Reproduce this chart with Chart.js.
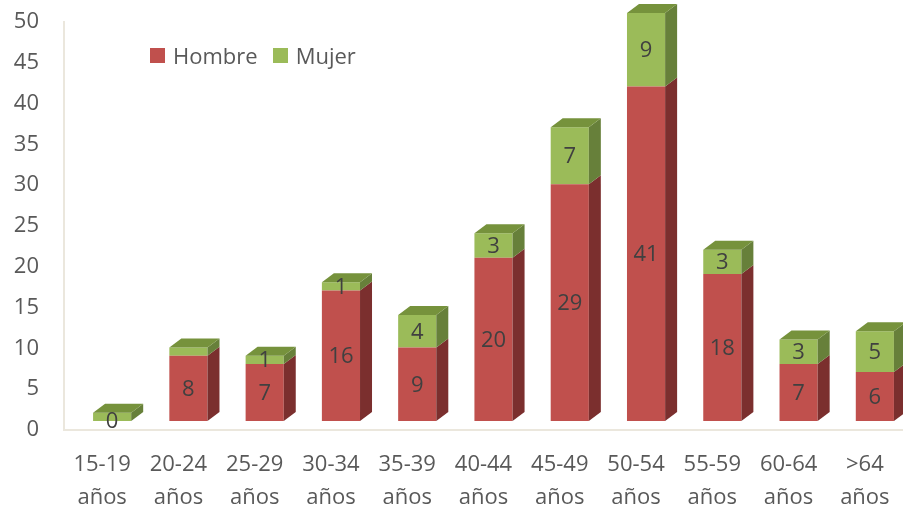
<!DOCTYPE html>
<html>
<head>
<meta charset="utf-8">
<script src="https://cdn.jsdelivr.net/npm/chart.js@4.4.0/dist/chart.umd.min.js"></script>
<style>
html,body{margin:0;padding:0;background:#fff;}
#wrap{position:relative;width:903px;height:506px;overflow:hidden;}
#legend{position:absolute;left:150px;top:40px;height:30px;display:flex;align-items:center;font-family:"Open Sans",sans-serif;font-size:22px;color:#595959;}
#legend .sw{width:15px;height:15px;display:inline-block;margin-right:8px;}
#legend .item{display:flex;align-items:center;margin-right:15px;}
</style>
</head>
<body>
<div id="wrap">
<canvas id="c" width="903" height="506"></canvas>
<div id="legend"></div>
</div>
<script>
const categories = [["15-19","años"],["20-24","años"],["25-29","años"],["30-34","años"],["35-39","años"],["40-44","años"],["45-49","años"],["50-54","años"],["55-59","años"],["60-64","años"],[">64","años"]];
const hombre = [0, 8, 7, 16, 9, 20, 29, 41, 18, 7, 6];
const mujer  = [1, 1, 1, 1, 4, 3, 7, 9, 3, 3, 5];
const mujerLabelHidden = [0, 1];
const seriesNames = ["Hombre", "Mujer"];
const yMax = 50;
const yStep = 5;

const FRONT = ["#C0504D", "#9BBB59"];
const SIDE  = ["#7B2F2E", "#67803A"];
const TOP   = ["#8E3A38", "#76923C"];
const SHIFT_X = 10, SHIFT_Y = -9, DX = 12, DY = 9;
const FONT = '"Open Sans", sans-serif';

const lg = document.getElementById('legend');
seriesNames.forEach((n, i) => {
  const it = document.createElement('span'); it.className = 'item';
  const sw = document.createElement('span'); sw.className = 'sw'; sw.style.background = FRONT[i];
  it.appendChild(sw); it.appendChild(document.createTextNode(n)); lg.appendChild(it);
});

const bar3d = {
  id: 'bar3d',
  beforeDatasetsDraw(chart) {
    chart.ctx.save();
    chart.ctx.translate(SHIFT_X, SHIFT_Y);
  },
  afterDatasetsDraw(chart) {
    const ctx = chart.ctx;
    const last = chart.data.datasets.length - 1;
    chart.data.datasets.forEach((ds, di) => {
      const meta = chart.getDatasetMeta(di);
      meta.data.forEach((el, i) => {
        const p = el.getProps(['x', 'y', 'base', 'width'], true);
        const r = p.x + p.width / 2, l = p.x - p.width / 2;
        const top = Math.min(p.y, p.base), bot = Math.max(p.y, p.base);
        ctx.fillStyle = SIDE[di];
        ctx.beginPath();
        ctx.moveTo(r, top); ctx.lineTo(r + DX, top - DY);
        ctx.lineTo(r + DX, bot - DY); ctx.lineTo(r, bot);
        ctx.closePath(); ctx.fill();
        let isTop = true;
        for (let k = di + 1; k <= last; k++) if (chart.data.datasets[k].data[i] > 0) isTop = false;
        if (isTop) {
          ctx.fillStyle = TOP[di];
          ctx.beginPath();
          ctx.moveTo(l, top); ctx.lineTo(l + DX, top - DY);
          ctx.lineTo(r + DX, top - DY); ctx.lineTo(r, top);
          ctx.closePath(); ctx.fill();
        }
      });
    });
    ctx.font = '22px ' + FONT;
    ctx.fillStyle = '#404040';
    ctx.textAlign = 'center';
    ctx.textBaseline = 'middle';
    chart.data.datasets.forEach((ds, di) => {
      const meta = chart.getDatasetMeta(di);
      meta.data.forEach((el, i) => {
        if (di === 1 && mujerLabelHidden.includes(i)) return;
        const p = el.getProps(['x', 'y', 'base'], true);
        ctx.fillText(String(ds.data[i]), p.x, (p.y + p.base) / 2 + 1);
      });
    });
    ctx.restore();
  }
};

new Chart(document.getElementById('c'), {
  type: 'bar',
  data: {
    labels: categories,
    datasets: [
      { label: seriesNames[0], data: hombre, backgroundColor: FRONT[0], borderWidth: 0 },
      { label: seriesNames[1], data: mujer, backgroundColor: FRONT[1], borderWidth: 0 }
    ]
  },
  options: {
    responsive: false,
    devicePixelRatio: 1,
    animation: false,
    layout: { padding: { top: 22, left: 0, right: 0, bottom: 0 } },
    plugins: { legend: { display: false }, tooltip: { enabled: false } },
    datasets: { bar: { barPercentage: 0.5, categoryPercentage: 1, clip: false } },
    scales: {
      x: {
        stacked: true,
        grid: { display: false, drawTicks: false },
        border: { display: true, color: '#EBE7DD', width: 2 },
        ticks: { font: { family: FONT, size: 22, lineHeight: 1.52 }, color: '#595959', padding: 18, maxRotation: 0, autoSkip: false },
        afterFit(s) { s.height = 76; s.paddingLeft = 0; s.paddingRight = 0; }
      },
      y: {
        stacked: true,
        min: 0, max: yMax,
        grid: { display: false, drawTicks: false },
        border: { display: true, color: '#EBE7DD', width: 2 },
        ticks: { stepSize: yStep, font: { family: FONT, size: 22 }, color: '#595959', padding: 25 },
        afterFit(s) { s.width = 64; s.paddingTop = 0; s.paddingBottom = 0; }
      }
    }
  },
  plugins: [bar3d]
});
</script>
</body>
</html>
